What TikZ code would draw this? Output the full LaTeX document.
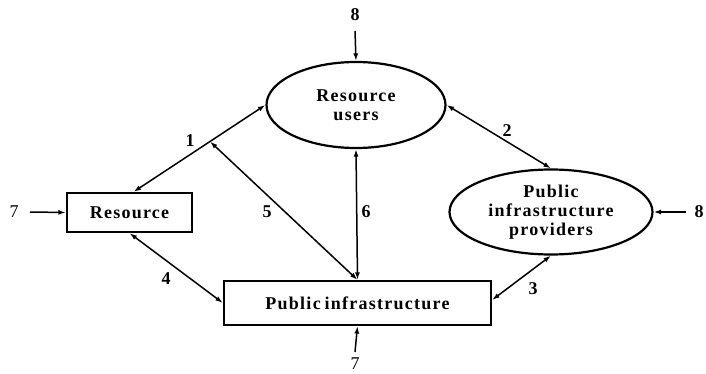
\documentclass[tikz,border=0pt]{standalone}
\usepackage{fontspec}
\setmainfont{Liberation Serif}[LetterSpace=7]
\usetikzlibrary{shapes.geometric,arrows.meta,calc}
\begin{document}
\begin{tikzpicture}[x=1pt,y=-1pt,
  >={Latex[length=7.5pt,width=5pt]},
  every node/.style={font=\fontsize{18}{19}\selectfont\bfseries},
  boxnode/.style={draw,line width=2.2pt,rectangle,inner sep=0pt},
  ovalnode/.style={draw,line width=2.2pt,ellipse,inner sep=0pt,align=center},
  link/.style={<->,line width=1.5pt},
  feed/.style={->,line width=1.5pt},
  num/.style={inner sep=1pt},
  plainnum/.style={inner sep=1pt,font=\fontsize{18}{19}\selectfont\mdseries}]
\useasboundingbox (0,0) rectangle (706,374);

% main elements
\node[ovalnode,minimum width=179pt,minimum height=86pt] (usr) at (356,105) {Resource\\users};
\node[ovalnode,minimum width=203pt,minimum height=85pt] (prov) at (551,212) {Public\\infrastructure\\providers};
\node[boxnode,minimum width=125pt,minimum height=39pt] (res) at (129.5,212.5) {Resource};
\node[boxnode,minimum width=267pt,minimum height=44pt] (pub) at (357.5,303) {Public\hspace{-2pt} infrastructure};

% interactions between elements
\coordinate (resN) at ($(res.north)+(4,0)$);
\draw[link] (resN) -- (usr.west);
\coordinate (mid) at ($(resN)!0.58!(usr.west)$);
\draw[link] (mid) -- (pub.north);
\draw[link] (usr.south) -- (pub.north);
\draw[link] (usr.east) -- (prov.north);
\draw[link] (prov.south) -- ($(pub.east)+(0,-3)$);
\draw[link] (res.south) -- (pub.west);

% external influences
\coordinate (topin) at (355,31);
\coordinate (leftin) at (30,212);
\coordinate (rightin) at (686,212);
\coordinate (botin) at (355,352);
\draw[feed] (topin) -- (usr.north);
\draw[feed] (leftin) -- (res.west);
\draw[feed] (rightin) -- (prov.east);
\draw[feed] (botin) -- (pub.south);

% labels
\node[num] (n8t) at (355,15) {8};
\node[plainnum] (n7l) at (14,212) {7};
\node[num] (n8r) at (699,212) {8};
\node[plainnum] (n7b) at (355,364) {7};
\node[num] (l1) at (190,141) {1};
\node[num] (l2) at (507,131) {2};
\node[num] (l3) at (533,289) {3};
\node[num] (l4) at (166,279) {4};
\node[num] (l5) at (267,212) {5};
\node[num] (l6) at (366,212) {6};
\end{tikzpicture}
\end{document}
